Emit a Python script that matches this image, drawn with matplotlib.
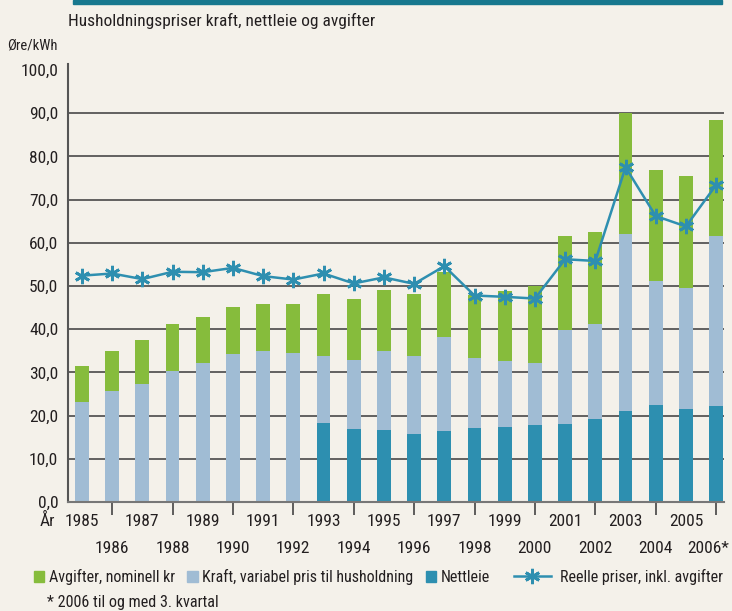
import matplotlib
matplotlib.use("Agg")
import matplotlib.pyplot as plt
import matplotlib.font_manager as fm
import matplotlib.transforms as mtransforms
from matplotlib.patches import Patch, Rectangle
from matplotlib.lines import Line2D
import numpy as np

# ---------------- data ----------------
years = [1985, 1986, 1987, 1988, 1989, 1990, 1991, 1992, 1993, 1994, 1995,
         1996, 1997, 1998, 1999, 2000, 2001, 2002, 2003, 2004, 2005, 2006]
year_labels = [str(y) for y in years[:-1]] + ["2006*"]
nettleie = [0, 0, 0, 0, 0, 0, 0, 0, 18.3, 16.9, 16.7, 15.8, 16.5, 17.2,
            17.4, 17.9, 18.1, 19.3, 21.1, 22.5, 21.5, 22.2]
kraft = [23.2, 25.7, 27.3, 30.3, 32.1, 34.2, 34.9, 34.4, 15.6, 16.0, 18.2,
         18.1, 21.7, 16.2, 15.2, 14.2, 21.7, 21.8, 41.0, 28.7, 28.1, 39.3]
avgifter = [8.2, 9.2, 10.2, 10.8, 10.8, 10.9, 10.9, 11.4, 14.2, 14.0, 14.1,
            14.2, 15.1, 14.5, 16.2, 17.8, 21.8, 21.4, 27.9, 25.6, 25.8, 27.0]
reelle = [52.4, 52.9, 51.6, 53.3, 53.2, 54.2, 52.3, 51.5, 52.9, 50.6, 52.0,
          50.5, 54.6, 47.8, 47.5, 47.1, 56.2, 55.8, 77.5, 66.2, 63.8, 73.4]
y_ticks = [0, 10, 20, 30, 40, 50, 60, 70, 80, 90]
y_top_tick = [100]

series_names = ["Avgifter, nominell kr", "Kraft, variabel pris til husholdning",
                "Nettleie", "Reelle priser, inkl. avgifter"]

# ---------------- style ----------------
avail = {f.name for f in fm.fontManager.ttflist}
font = "DejaVu Sans"
for cand in ["Liberation Sans Narrow", "DejaVu Sans Condensed", "Roboto Condensed",
             "Open Sans Condensed", "Noto Sans Condensed", "Roboto"]:
    if cand in avail:
        font = cand
        break
plt.rcParams["font.family"] = [font, "DejaVu Sans"]

BG = "#F4F1EA"
GREEN = "#86BC3C"
LIGHT = "#A0BCD4"
TEAL = "#2D8FB0"
LINE = "#2E8FB0"
TXT = "#231F20"

fig = plt.figure(figsize=(7.32, 6.11), dpi=100, facecolor=BG)
W, H = 732, 611
ax = fig.add_axes([68 / W, (H - 502) / H, (724 - 68) / W, (502 - 64) / H])
ax.set_facecolor(BG)

x = np.arange(len(years))
bw = 0.46
bot2 = np.array(nettleie)
bot3 = bot2 + np.array(kraft)
ax.bar(x, nettleie, bw, color=TEAL, zorder=2)
ax.bar(x, kraft, bw, bottom=bot2, color=LIGHT, zorder=2)
ax.bar(x, avgifter, bw, bottom=bot3, color=GREEN, zorder=2)
ax.plot(x, reelle, color=LINE, lw=1.8, marker=(6, 2, 0), ms=11, mew=2,
        zorder=3)

ax.set_xlim(-0.46, len(years) - 1 + 0.26)
ax.set_ylim(0, 101.4)

# y axis
ax.set_yticks(y_ticks)
ax.set_yticklabels([f"{v:.1f}".replace(".", ",") for v in y_ticks])
ax.set_yticks(y_top_tick, minor=True)
ax.set_yticklabels([f"{v:.1f}".replace(".", ",") for v in y_top_tick], minor=True)
ax.tick_params(axis="y", which="both", length=0, pad=7, labelsize=12.5,
               colors=TXT)
ax.yaxis.grid(True, which="major", color="#3a3a3a", lw=1.1)
ax.set_axisbelow(True)

# x axis: even years with tick marks (lower row), odd years upper row
even = [i for i in x if years[i] % 2 == 0]
odd = [i for i in x if years[i] % 2 == 1]
ax.set_xticks(even)
ax.set_xticklabels([year_labels[i] for i in even])
ax.set_xticks(odd, minor=True)
ax.set_xticklabels([year_labels[i] for i in odd], minor=True)
ax.tick_params(axis="x", which="major", length=9, width=1.2, color="#444",
               pad=19, labelsize=12.5, labelcolor=TXT)
ax.tick_params(axis="x", which="minor", length=0, pad=9, labelsize=12.5,
               labelcolor=TXT)

# shift the last label slightly left so it stays inside the figure
last_tick = ax.xaxis.get_major_ticks()[-1]
last_tick.label1.set_transform(
    last_tick.label1.get_transform()
    + mtransforms.ScaledTranslation(-8 / 100, 0, fig.dpi_scale_trans))

for s in ["top", "right"]:
    ax.spines[s].set_visible(False)
ax.spines["left"].set_color("#555555")
ax.spines["left"].set_linewidth(1.5)
ax.spines["left"].set_bounds(0, 101.4)
ax.spines["bottom"].set_color("#777777")
ax.spines["bottom"].set_linewidth(1.5)

# texts
fig.text(68 / W, (H - 21) / H, "Husholdningspriser kraft, nettleie og avgifter",
         ha="left", va="center", fontsize=12.5, color=TXT)
fig.text(58 / W, (H - 46) / H, "Øre/kWh", ha="right", va="center",
         fontsize=10.5, color=TXT)
fig.text(40 / W, (H - 521) / H, "År", ha="left", va="center", fontsize=12.5,
         color=TXT)
fig.text(47 / W, (H - 603) / H, "* 2006 til og med 3. kvartal", ha="left",
         va="center", fontsize=11.6, color=TXT)

# top rule
fig.patches.append(Rectangle((73 / W, (H - 4) / H), (722 - 73) / W, 4 / H,
                             transform=fig.transFigure, color="#17788E",
                             zorder=5))

# legends
h_patches = [Patch(color=GREEN), Patch(color=LIGHT), Patch(color=TEAL)]
leg1 = fig.legend(h_patches, series_names[:3], loc="center left",
                  bbox_to_anchor=(34 / W, (H - 577) / H), ncol=3,
                  frameon=False, handlelength=0.65, handleheight=0.65,
                  handletextpad=0.3, columnspacing=0.75, fontsize=11.5,
                  borderpad=0, borderaxespad=0, labelcolor=TXT)
h_line = [Line2D([], [], color=LINE, lw=1.8, marker=(6, 2, 0), ms=11, mew=2)]
leg2 = fig.legend(h_line, series_names[3:], loc="center left",
                  bbox_to_anchor=(514 / W, (H - 577) / H), frameon=False,
                  handlelength=2.3, handletextpad=0.6, fontsize=11.5,
                  borderpad=0, borderaxespad=0, labelcolor=TXT)

fig.savefig("out.png", dpi=100, facecolor=BG)
